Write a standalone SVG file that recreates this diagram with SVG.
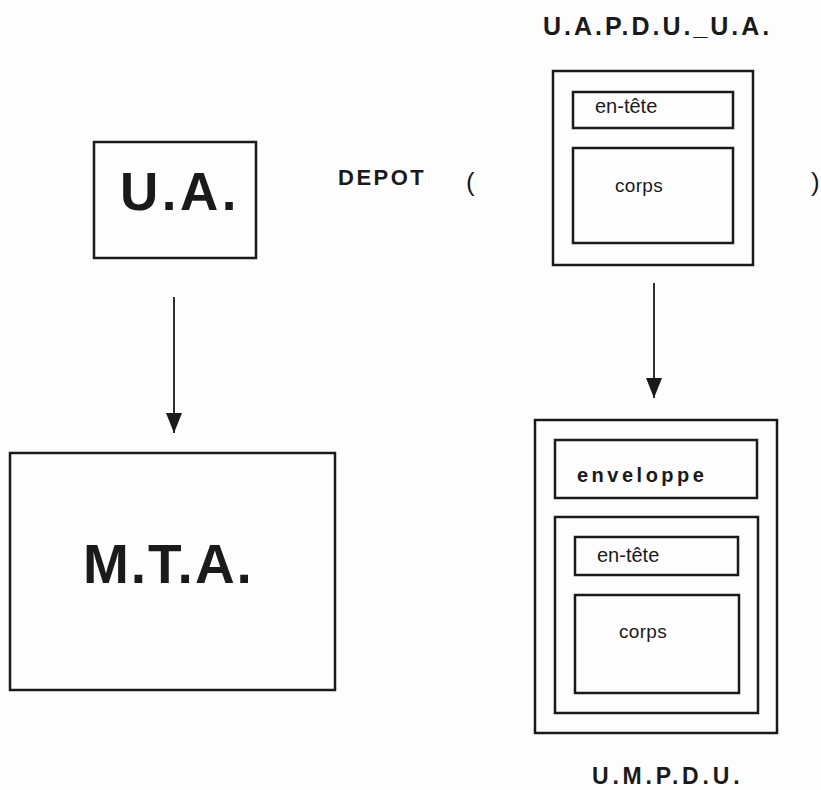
<svg xmlns="http://www.w3.org/2000/svg" width="821" height="790" viewBox="0 0 821 790">
<style>
.box{fill:none;stroke:#1a1a1a;stroke-width:2.5}
.b{font-family:"Liberation Sans",Arial,sans-serif;font-weight:bold;fill:#1a1a1a}
.r{font-family:"Liberation Sans",Arial,sans-serif;fill:#1a1a1a}
.conn{stroke:#1a1a1a;stroke-width:1.8;fill:none}
</style>
<defs>
<marker id="ah" markerWidth="22" markerHeight="16" refX="20" refY="8" orient="auto" markerUnits="userSpaceOnUse" viewBox="0 0 22 16">
<path d="M0,0 L20,8 L0,16 Z" fill="#1a1a1a"/>
</marker>
</defs>
<rect width="821" height="790" fill="#fdfdfd"/>
<g id="ua">
<rect class="box" x="94" y="142" width="162" height="116"/>
<text class="b" x="120" y="210" font-size="53" letter-spacing="3.5">U.A.</text>
</g>
<g id="depot">
<text class="b" x="338" y="185" font-size="22" letter-spacing="2.5">DEPOT</text>
<text class="r" x="466" y="191" font-size="26">(</text>
<text class="r" x="811" y="191" font-size="26">)</text>
</g>
<g id="uapdu">
<text class="b" x="543" y="35" font-size="25" letter-spacing="3">U.A.P.D.U._U.A.</text>
<rect class="box" x="553" y="71" width="200" height="194"/>
<rect class="box" x="573" y="92" width="160" height="36"/>
<text class="r" x="595" y="113" font-size="20">en-tête</text>
<rect class="box" x="573" y="148" width="160" height="95"/>
<text class="r" x="615" y="192" font-size="19" letter-spacing="0.3">corps</text>
</g>
<g id="mta">
<rect class="box" x="10" y="453" width="325" height="237"/>
<text class="b" x="83" y="583" font-size="55" letter-spacing="2">M.T.A.</text>
</g>
<g id="umpdu">
<rect class="box" x="535" y="420" width="242" height="313"/>
<rect class="box" x="555" y="440" width="202" height="58"/>
<text class="b" x="577" y="482" font-size="20" letter-spacing="3.5">enveloppe</text>
<rect class="box" x="555" y="517" width="203" height="196"/>
<rect class="box" x="575" y="537" width="163" height="38"/>
<text class="r" x="597" y="562" font-size="20">en-tête</text>
<rect class="box" x="575" y="595" width="164" height="98"/>
<text class="r" x="619" y="638" font-size="19" letter-spacing="0.3">corps</text>
<text class="b" x="592" y="784" font-size="23" letter-spacing="3.8">U.M.P.D.U.</text>
</g>
<g id="connectors">
<line class="conn" x1="174" y1="297" x2="174" y2="433" marker-end="url(#ah)"/>
<line class="conn" x1="654" y1="283" x2="654" y2="398" marker-end="url(#ah)"/>
</g>
</svg>
